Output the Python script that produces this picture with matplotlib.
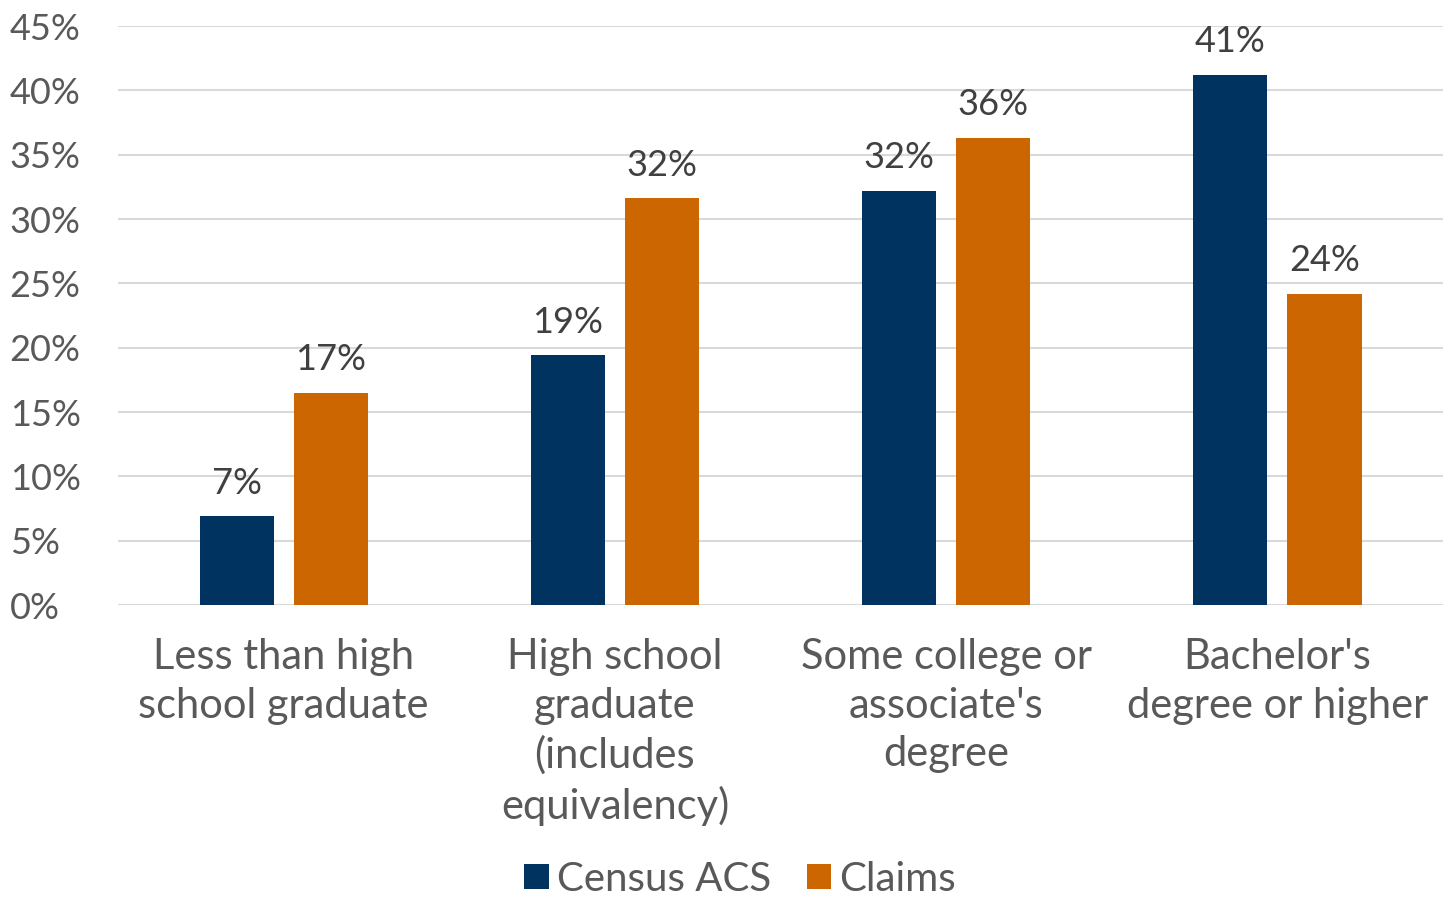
import numpy as np
import matplotlib.pyplot as plt

plt.rcParams['font.family'] = ['Lato', 'DejaVu Sans']

# data
categories = ["Less than high\nschool graduate",
              "High school\ngraduate\n(includes\nequivalency)",
              "Some college or\nassociate's\ndegree",
              "Bachelor's\ndegree or higher"]
census_acs = [6.9, 19.4, 32.2, 41.2]
claims = [16.5, 31.6, 36.3, 24.2]
census_labels = ["7%", "19%", "32%", "41%"]
claims_labels = ["17%", "32%", "36%", "24%"]
yticks = [0, 5, 10, 15, 20, 25, 30, 35, 40, 45]

navy = '#00335F'
orange = '#CC6600'
tick_gray = '#595959'
label_gray = '#404040'
fs = 26

fig = plt.figure(figsize=(14.43, 8.97), dpi=100)
ax = fig.add_axes([0.0818, 0.3255, 0.9182, 0.6455])

x = np.arange(len(categories))
w = 0.224
off = 0.142
b1 = ax.bar(x - off, census_acs, w, color=navy, label='Census ACS')
b2 = ax.bar(x + off, claims, w, color=orange, label='Claims')

for bars, labs in ((b1, census_labels), (b2, claims_labels)):
    for b, t in zip(bars, labs):
        ax.annotate(t, (b.get_x() + b.get_width() / 2, b.get_height()),
                    xytext=(0, 12), textcoords='offset points',
                    ha='center', va='bottom', fontsize=fs, color=label_gray)

ax.set_xlim(-0.5, len(categories) - 0.5)
ax.set_ylim(0, 45)
ax.set_yticks(yticks)
ax.set_yticklabels([f"{v}%" for v in yticks], fontsize=fs, color=tick_gray)
ax.set_xticks(x)
ax.set_xticklabels(categories, fontsize=30, color=tick_gray, linespacing=1.33)
ax.tick_params(axis='both', length=0)
ax.tick_params(axis='x', pad=24)
ax.tick_params(axis='y', pad=78)
for lab in ax.get_yticklabels():
    lab.set_horizontalalignment('left')

ax.yaxis.grid(True, color='#D9D9D9', linewidth=1.5)
ax.set_axisbelow(True)
for s in ax.spines.values():
    s.set_visible(False)

fig.legend(loc='center', bbox_to_anchor=(0.513, 0.02), ncol=2, frameon=False,
           fontsize=29, handlelength=0.6, handleheight=0.6, handletextpad=0.2,
           columnspacing=0.9, labelcolor=tick_gray)

fig.savefig('out.png', dpi=100)
